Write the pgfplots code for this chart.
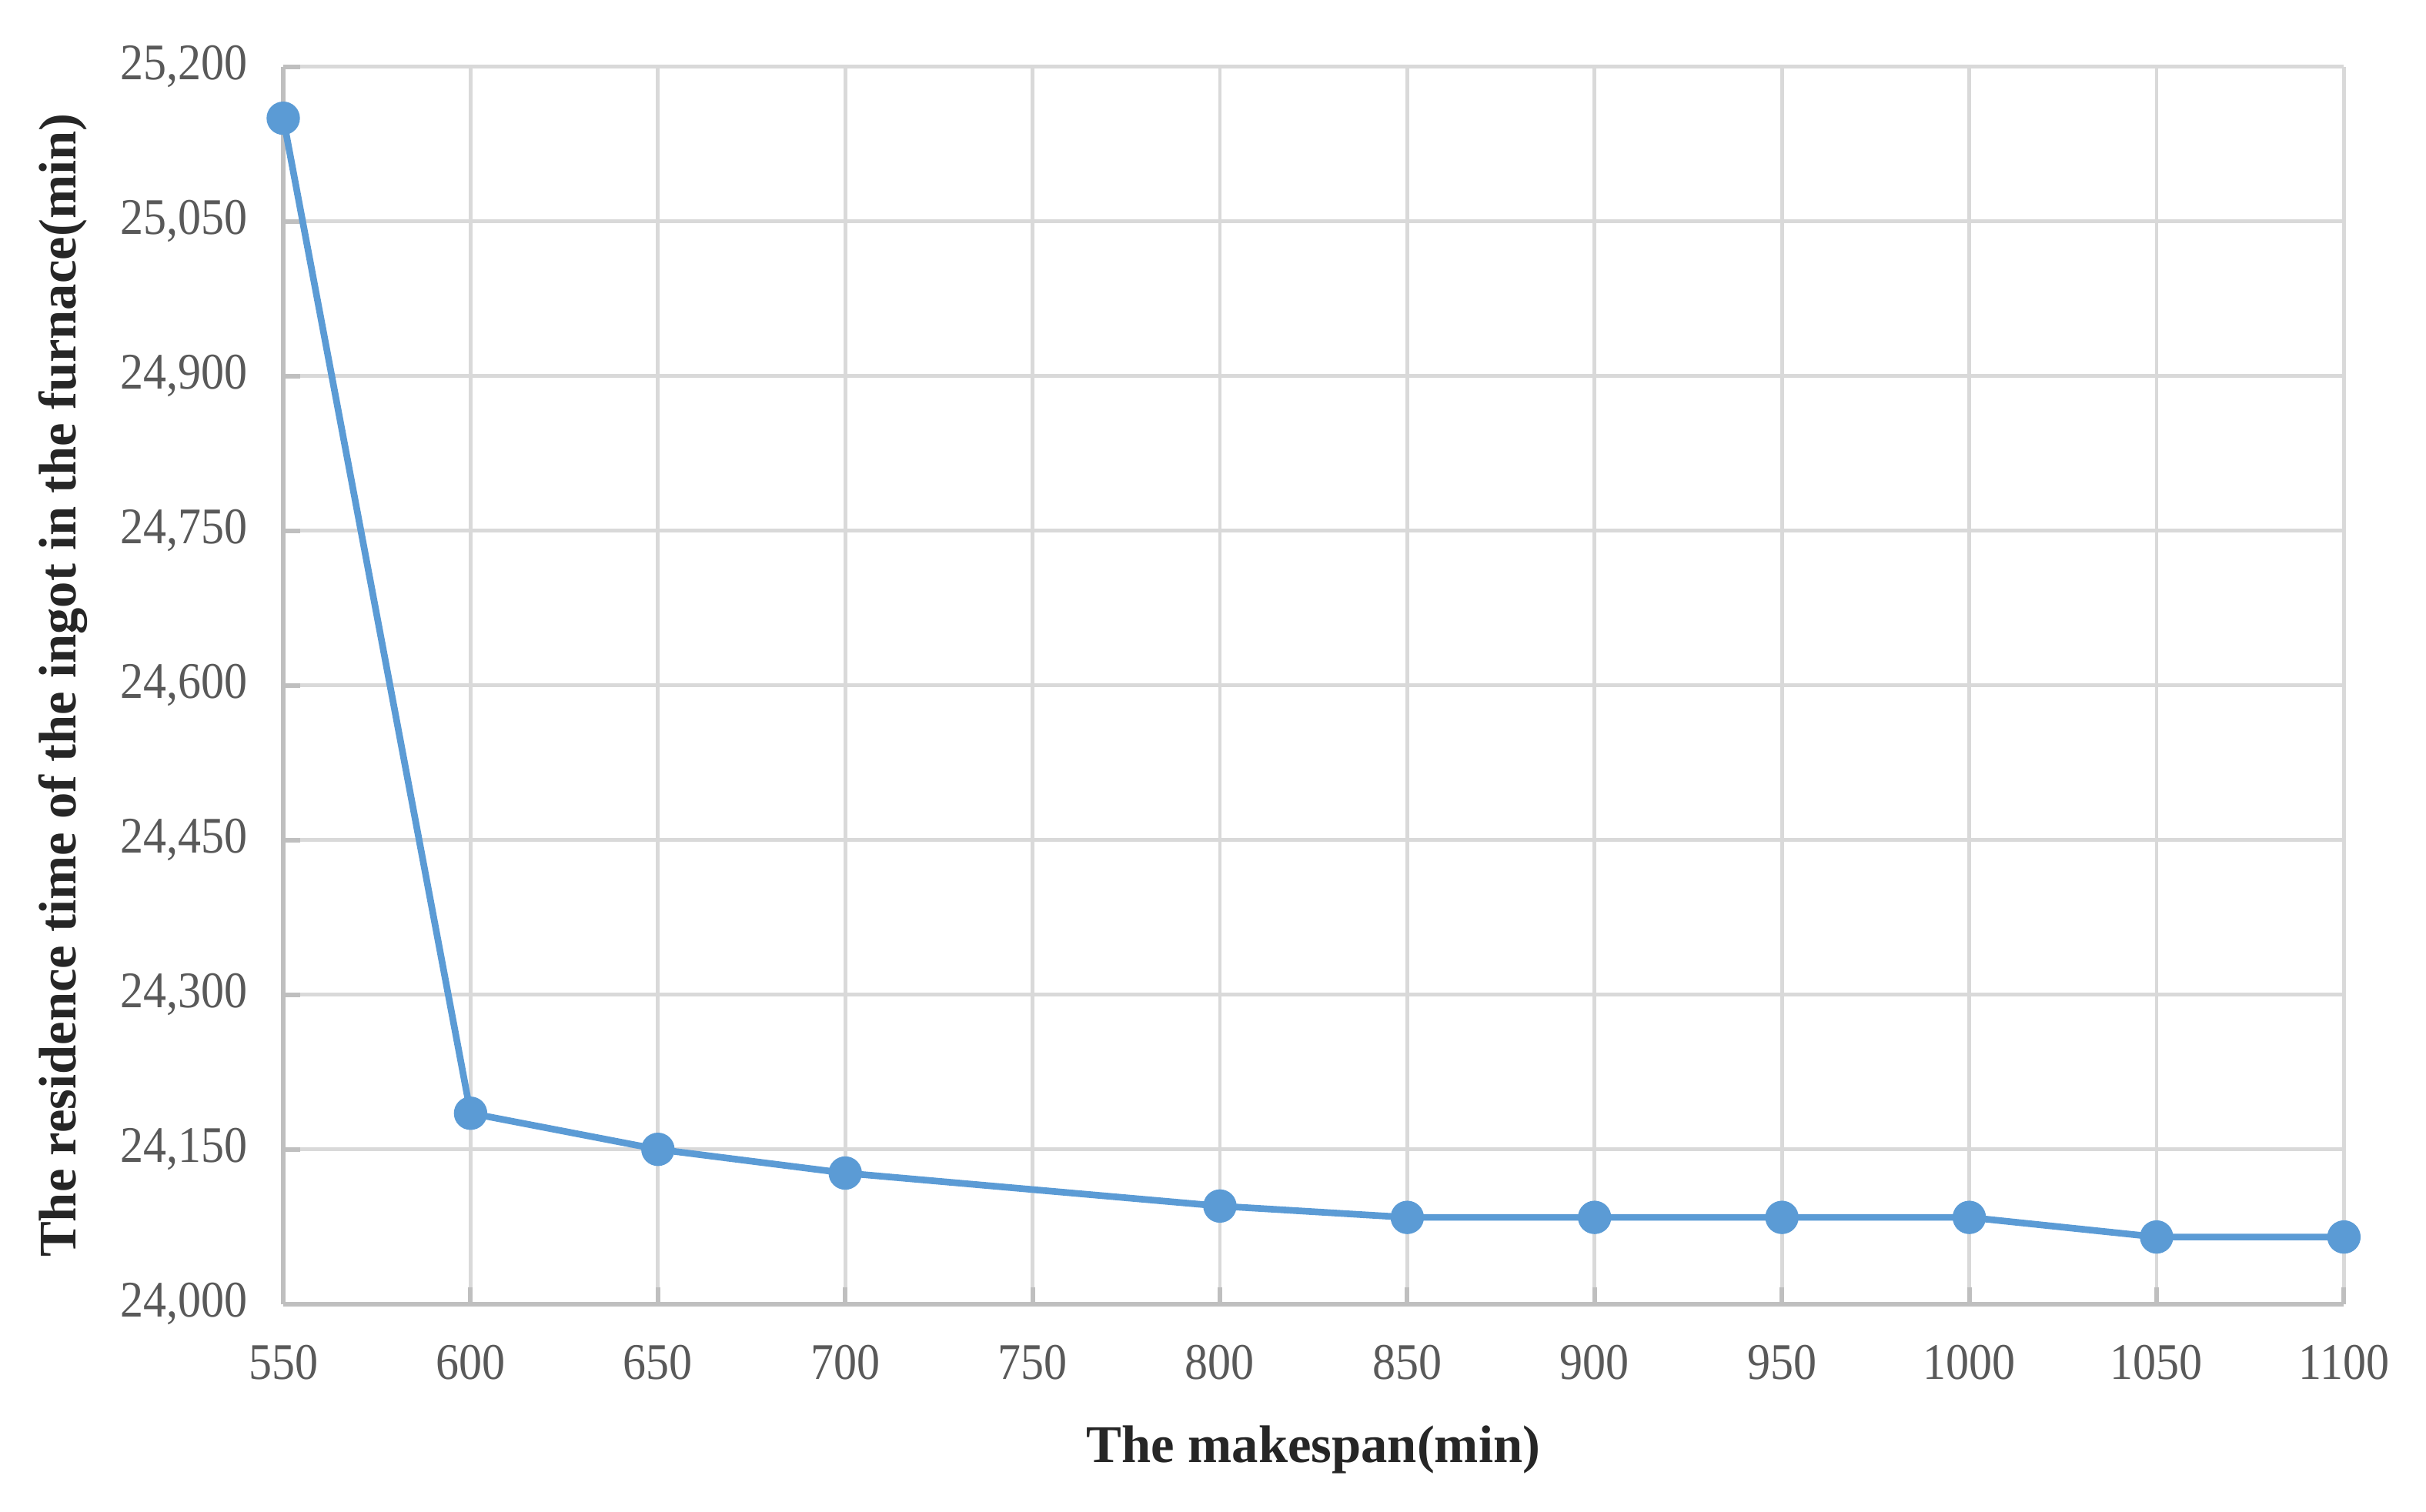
\documentclass[border=0pt]{standalone}
\usepackage{pgfplots}
\pgfplotsset{compat=1.18}
\usepackage{fontspec}
\setmainfont{Liberation Serif}
\newfontfamily\tickfont[FakeStretch=0.9]{Liberation Serif}
\definecolor{linecol}{HTML}{5B9BD5}
\definecolor{gridcol}{HTML}{D9D9D9}
\definecolor{axiscol}{HTML}{BFBFBF}
\definecolor{tickcol}{HTML}{595959}
\begin{document}
\begin{tikzpicture}
\begin{axis}[
  scale only axis,
  width=401.6pt, height=241.2pt,
  xmin=550, xmax=1100, ymin=24000, ymax=25200,
  xtick={550,600,...,1100},
  ytick={24000,24150,...,25200},
  grid=major,
  major grid style={draw=gridcol, line width=0.7pt},
  axis x line*=bottom, axis y line*=left,
  axis line style={draw=axiscol, line width=0.9pt, -},
  tick align=inside, tick pos=lower,
  major tick length=3.3pt,
  major tick style={draw=axiscol, line width=0.9pt},
  /pgf/number format/assume math mode=true,
  /pgf/number format/1000 sep={,},
  xticklabel style={font=\tickfont\fontsize{10}{12}\selectfont, text=tickcol, yshift=-4.5pt},
  yticklabel style={font=\tickfont\fontsize{10}{12}\selectfont, text=tickcol, xshift=-3.5pt},
  scaled y ticks=false,
  xticklabel={\pgfmathprintnumber[1000 sep=]{\tick}},
  xlabel={The makespan(min)},
  ylabel={The residence time of the ingot in the furnace(min)},
  every axis x label/.style={at={(axis description cs:0.5,-0.118)}, anchor=center, font=\bfseries\fontsize{10.3}{12}\selectfont, text=black!85},
  every axis y label/.style={at={(axis description cs:-0.107,0.5)}, rotate=90, anchor=center, font=\bfseries\fontsize{10.3}{12}\selectfont, text=black!85},
  clip=false,
]
\addplot[color=linecol, line width=1.3pt, mark=*, mark size=2.6pt, mark options={fill=linecol, draw=linecol}]
coordinates {
(550,25150) (600,24185) (650,24150) (700,24127) (800,24095) (850,24084)
(900,24084) (950,24084) (1000,24084) (1050,24065) (1100,24065)
};
\coordinate (sw) at (rel axis cs:0,0);
\end{axis}
\pgfresetboundingbox
\path[use as bounding box] ([xshift=-55.2pt,yshift=-40.4pt]sw) rectangle ([xshift=417.6pt,yshift=254.2pt]sw);
\end{tikzpicture}
\end{document}
